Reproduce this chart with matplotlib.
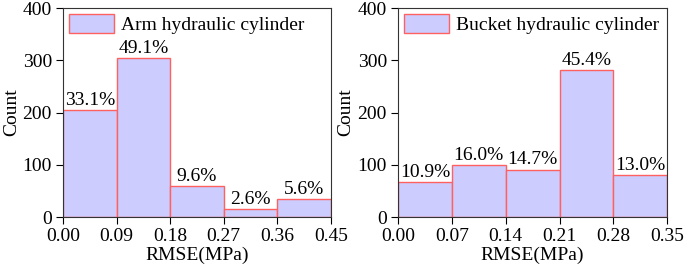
import matplotlib.pyplot as plt
import numpy as np

plt.rcParams['font.family'] = 'Liberation Serif'
plt.rcParams['font.size'] = 14
plt.rcParams['mathtext.fontset'] = 'stix'

# data
arm_edges = [0.00, 0.09, 0.18, 0.27, 0.36, 0.45]
arm_counts = [205, 304, 60, 16, 35]
arm_pct = ['33.1%', '49.1%', '9.6%', '2.6%', '5.6%']

bucket_edges = [0.00, 0.07, 0.14, 0.21, 0.28, 0.35]
bucket_counts = [68, 99, 91, 281, 81]
bucket_pct = ['10.9%', '16.0%', '14.7%', '45.4%', '13.0%']

fill_color = '#ccccff'
edge_color = '#ff6060'

fig = plt.figure(figsize=(6.85, 2.71), dpi=100)
ax_left = fig.add_axes([0.092, 0.199, 0.391, 0.771])
ax_right = fig.add_axes([0.581, 0.199, 0.393, 0.771])


def draw_hist(ax, edges, counts, pct, label):
    edges = np.array(edges)
    widths = np.diff(edges)
    ax.bar(edges[:-1], counts, width=widths, align='edge',
           color=fill_color, edgecolor=edge_color, linewidth=1.0, label=label)
    # percentage on top of each bin
    for x, w, c, p in zip(edges[:-1], widths, counts, pct):
        ax.text(x + w / 2, c + 2, p, ha='center', va='bottom', fontsize=14)
    ax.set_xlim(edges[0], edges[-1])
    ax.set_ylim(0, 400)
    ax.set_xticks(edges)
    ax.set_xticklabels([f'{e:.2f}' for e in edges])
    ax.set_yticks([0, 100, 200, 300, 400])
    ax.tick_params(direction='out', length=5, width=0.8, pad=3)
    ax.set_xlabel('RMSE(MPa)', labelpad=1)
    ax.set_ylabel('Count', labelpad=2)
    for s in ax.spines.values():
        s.set_linewidth(0.8)
        s.set_color('#333333')
    ax.legend(loc='upper left', frameon=False, handlelength=2.3,
              handleheight=1.1, borderaxespad=0.2, borderpad=0.1,
              handletextpad=0.4, fontsize=14)


draw_hist(ax_left, arm_edges, arm_counts, arm_pct, 'Arm hydraulic cylinder')
draw_hist(ax_right, bucket_edges, bucket_counts, bucket_pct, 'Bucket hydraulic cylinder')

plt.savefig('out.png', dpi=100)
